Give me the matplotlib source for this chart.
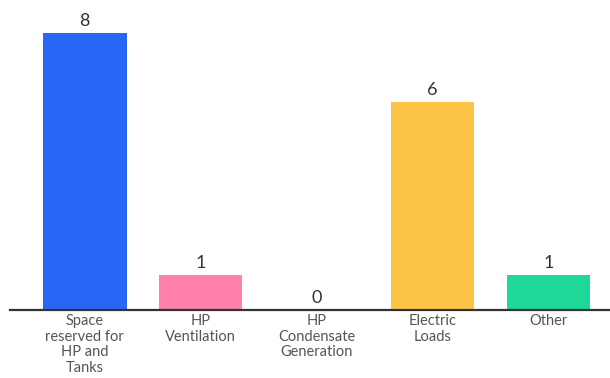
import matplotlib.pyplot as plt

categories = ['Space\nreserved for\nHP and\nTanks', 'HP\nVentilation',
              'HP\nCondensate\nGeneration', 'Electric\nLoads', 'Other']
counts = [8, 1, 0, 6, 1]
colors = ['#2966F5', '#FF80AA', '#FF80AA', '#FCC446', '#1DD896']

plt.rcParams['font.family'] = ['Lato', 'DejaVu Sans']

fig = plt.figure(figsize=(6.1, 3.78), dpi=100)
ax = fig.add_axes([10 / 610, 68 / 378, 600 / 610, 310 / 378])

x = range(len(categories))
bars = ax.bar(x, counts, width=0.72, color=colors)
ax.bar_label(bars, labels=[str(c) for c in counts], padding=3,
             fontsize=13, color='#333333')

ax.set_xlim(-0.645, 4.53)
ax.set_ylim(0, 8.96)
ax.set_xticks(list(x))
ax.set_xticklabels(categories, fontsize=10.5, color='#555555', linespacing=1.15)
ax.tick_params(axis='x', length=0, pad=3)
ax.set_yticks([])
for side in ['top', 'right', 'left']:
    ax.spines[side].set_visible(False)
ax.spines['bottom'].set_color('#333333')
ax.spines['bottom'].set_linewidth(1.6)

fig.savefig('out.png', dpi=100)
